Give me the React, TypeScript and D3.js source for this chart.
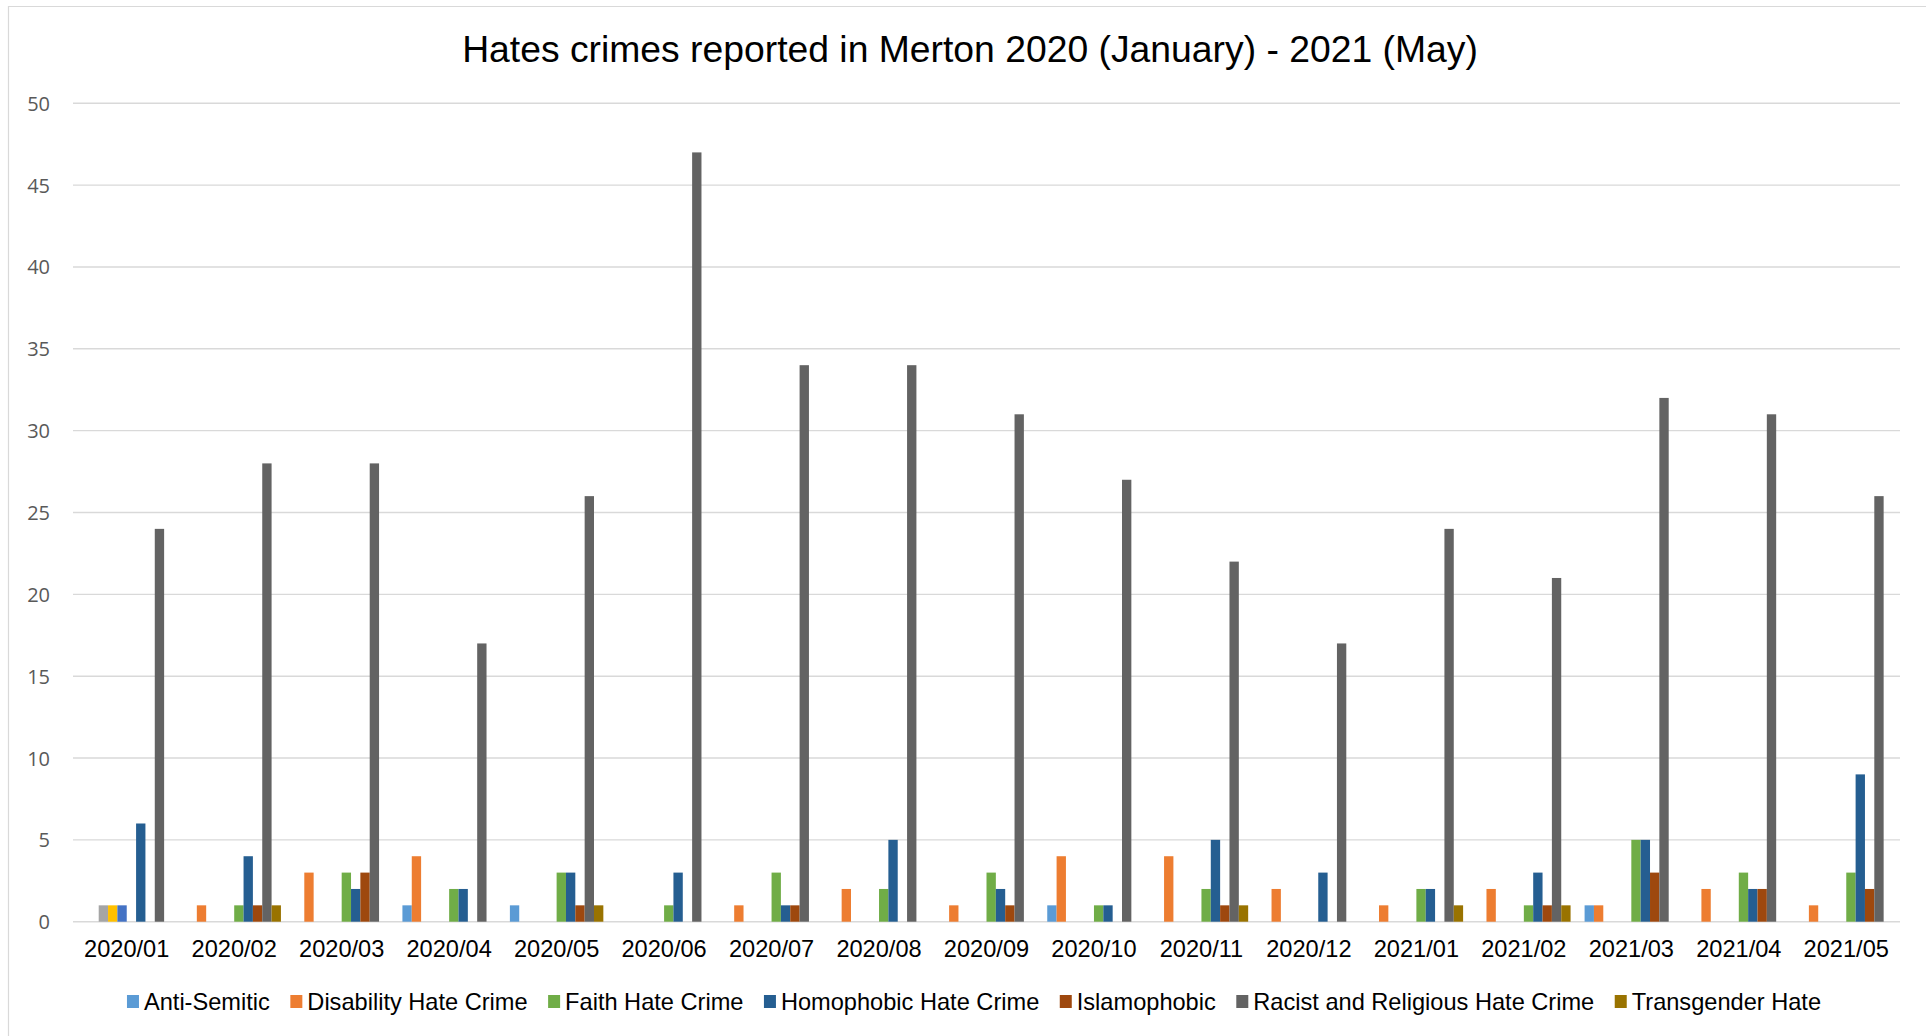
import React, { useEffect, useRef } from 'react';
import * as d3 from 'd3';

const months = [
  '2020/01', '2020/02', '2020/03', '2020/04', '2020/05', '2020/06', '2020/07', '2020/08', '2020/09',
  '2020/10', '2020/11', '2020/12', '2021/01', '2021/02', '2021/03', '2021/04', '2021/05',
];

const antiSemitic = [0, 0, 0, 1, 1, 0, 0, 0, 0, 1, 0, 0, 0, 0, 1, 0, 0];
const disability = [0, 1, 3, 4, 0, 0, 1, 2, 1, 4, 4, 2, 1, 2, 1, 2, 1];
const unnamedA = [1, 0, 0, 0, 0, 0, 0, 0, 0, 0, 0, 0, 0, 0, 0, 0, 0];
const unnamedB = [1, 0, 0, 0, 0, 0, 0, 0, 0, 0, 0, 0, 0, 0, 0, 0, 0];
const unnamedC = [1, 0, 0, 0, 0, 0, 0, 0, 0, 0, 0, 0, 0, 0, 0, 0, 0];
const faith = [0, 1, 3, 2, 3, 1, 3, 2, 3, 1, 2, 0, 2, 1, 5, 3, 3];
const homophobic = [6, 4, 2, 2, 3, 3, 1, 5, 2, 1, 5, 3, 2, 3, 5, 2, 9];
const islamophobic = [0, 1, 3, 0, 1, 0, 1, 0, 1, 0, 1, 0, 0, 1, 3, 2, 2];
const racist = [24, 28, 28, 17, 26, 47, 34, 34, 31, 27, 22, 17, 24, 21, 32, 31, 26];
const transgender = [0, 1, 0, 0, 1, 0, 0, 0, 0, 0, 1, 0, 1, 1, 0, 0, 0];

const seriesNames = [
  'Anti-Semitic', 'Disability Hate Crime', '', '', '', 'Faith Hate Crime',
  'Homophobic Hate Crime', 'Islamophobic', 'Racist and Religious Hate Crime', 'Transgender Hate',
];
const seriesValues = [
  antiSemitic, disability, unnamedA, unnamedB, unnamedC, faith,
  homophobic, islamophobic, racist, transgender,
];
const seriesColors = [
  '#5B9BD5', '#ED7D31', '#A5A5A5', '#FFC000', '#4472C4', '#70AD47',
  '#255E91', '#9E480E', '#636363', '#997300',
];
const yTicks = [0, 5, 10, 15, 20, 25, 30, 35, 40, 45, 50];
const title = 'Hates crimes reported in Merton 2020 (January) - 2021 (May)';

const W = 1926;
const H = 1036;

export default function App() {
  const ref = useRef<SVGSVGElement | null>(null);

  useEffect(() => {
    document.body.style.margin = '0';
    const svg = d3.select(ref.current);
    svg.selectAll('*').remove();

    const left = 73;
    const right = 1900;
    const y0 = 921.7;
    const y50 = 103.3;

    // border
    svg.append('line').attr('x1', 8.5).attr('x2', 8.5).attr('y1', 6).attr('y2', H)
      .attr('stroke', '#d9d9d9').attr('stroke-width', 1.2);
    svg.append('line').attr('x1', 8).attr('x2', W).attr('y1', 6.5).attr('y2', 6.5)
      .attr('stroke', '#d9d9d9').attr('stroke-width', 1.2);

    const x0 = d3.scaleBand<string>().domain(months).range([left, right]).paddingInner(0).paddingOuter(0);
    const idx = seriesNames.map((_, i) => String(i));
    const x1 = d3.scaleBand<string>().domain(idx).range([0, x0.bandwidth()]).paddingInner(0).paddingOuter(0.75);
    const y = d3.scaleLinear().domain([0, 50]).range([y0, y50]);

    // gridlines
    svg.append('g').selectAll('line').data(yTicks).join('line')
      .attr('x1', left).attr('x2', right)
      .attr('y1', (d) => y(d)).attr('y2', (d) => y(d))
      .attr('stroke', '#d9d9d9').attr('stroke-width', 1.4);

    // y labels
    svg.append('g').selectAll('text').data(yTicks).join('text')
      .attr('x', 50).attr('y', (d) => y(d))
      .attr('text-anchor', 'end').attr('dominant-baseline', 'central')
      .attr('font-family', '"Open Sans", sans-serif').attr('font-size', 20)
      .attr('fill', '#595959')
      .text((d) => String(d));

    // bars
    const groups = svg.append('g').selectAll('g').data(months).join('g')
      .attr('transform', (m) => `translate(${x0(m)},0)`);
    groups.selectAll('rect')
      .data((m) => seriesValues.map((vals, si) => ({ si, v: vals[months.indexOf(m)] })).filter((d) => d.v > 0))
      .join('rect')
      .attr('x', (d) => x1(String(d.si)) as number)
      .attr('width', x1.bandwidth())
      .attr('y', (d) => y(d.v))
      .attr('height', (d) => y(0) - y(d.v))
      .attr('fill', (d) => seriesColors[d.si]);

    // x labels
    svg.append('g').selectAll('text').data(months).join('text')
      .attr('x', (m) => (x0(m) as number) + x0.bandwidth() / 2)
      .attr('y', 956.5)
      .attr('text-anchor', 'middle')
      .attr('font-family', '"Liberation Sans", Arial, sans-serif').attr('font-size', 23.6)
      .attr('fill', '#000')
      .text((m) => m);

    // title
    svg.append('text')
      .attr('x', 970).attr('y', 61.5).attr('text-anchor', 'middle')
      .attr('font-family', '"Liberation Sans", Arial, sans-serif').attr('font-size', 37.3)
      .attr('fill', '#000')
      .text(title);

    // legend
    const legendItems = seriesNames.map((n, i) => ({ n, i })).filter((d) => d.n !== '');
    const lg = svg.append('g');
    const markerW = 12;
    const markerH = 13;
    const markerGap = 5;
    const itemGap = 20.5;
    let cx = 0;
    legendItems.forEach((it) => {
      const g = lg.append('g');
      g.append('rect').attr('x', cx).attr('y', 1001.5 - markerH / 2)
        .attr('width', markerW).attr('height', markerH).attr('fill', seriesColors[it.i]);
      const t = g.append('text').attr('x', cx + markerW + markerGap).attr('y', 1009.5)
        .attr('font-family', '"Liberation Sans", Arial, sans-serif').attr('font-size', 23.6)
        .attr('fill', '#000').text(it.n);
      const tw = (t.node() as SVGTextElement).getComputedTextLength();
      cx += markerW + markerGap + tw + itemGap;
    });
    const totalW = cx - itemGap;
    lg.attr('transform', `translate(${974 - totalW / 2},0)`);
  }, []);

  return (
    <svg
      ref={ref}
      width={W}
      height={H}
      style={{ position: 'absolute', left: 0, top: 0, background: '#fff' }}
    />
  );
}
